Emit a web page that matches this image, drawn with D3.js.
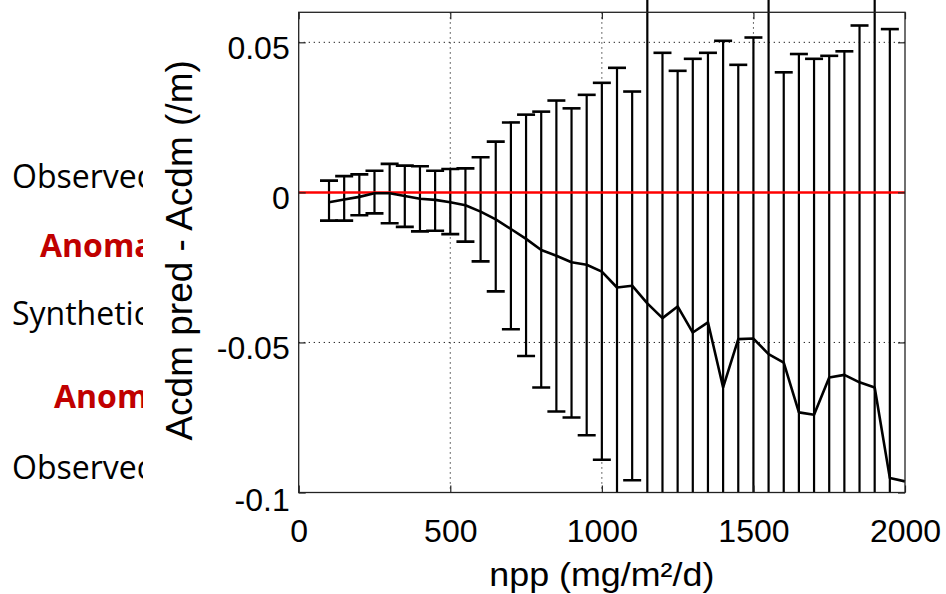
<!DOCTYPE html>
<html>
<head>
<meta charset="utf-8">
<script src="https://cdn.jsdelivr.net/npm/d3@7"></script>
<style>
  html, body { margin: 0; padding: 0; background: #fff; }
  svg { display: block; }
</style>
</head>
<body>
<svg id="chart" width="946" height="594"></svg>
<script>
// ---- data ----
const npp = [100,150,200,250,300,350,400,450,500,550,600,650,700,750,800,850,900,950,1000,
             1050,1100,1150,1200,1250,1300,1350,1400,1450,1500,1550,1600,1650,1700,1750,1800,1850,1900,1950,2000];
const meanDiff = [-0.0033,-0.0024,-0.0015,-0.0003,-0.0003,-0.0012,-0.0021,-0.0025,-0.0033,-0.0043,-0.0064,-0.0090,-0.0122,-0.0155,-0.0192,-0.0211,-0.0233,-0.0241,-0.0264,
                  -0.0317,-0.0311,-0.0370,-0.0419,-0.0380,-0.0467,-0.0433,-0.0650,-0.0489,-0.0487,-0.0539,-0.0567,-0.0733,-0.0741,-0.0617,-0.0608,-0.0633,-0.0650,-0.0952,-0.0963];
const upperBar = [0.0039,0.0054,0.0060,0.0072,0.0095,0.0089,0.0087,0.0072,0.0078,0.0080,0.0117,0.0169,0.0233,0.0259,0.0269,0.0306,0.0280,0.0325,0.0365,
                  0.0415,0.0336,0.0750,0.0465,0.0405,0.0445,0.0465,0.0505,0.0425,0.0516,0.0750,0.0400,0.0461,0.0445,0.0455,0.0470,0.0556,0.0750,0.0544,null];
const lowerBar = [-0.0094,-0.0094,-0.0076,-0.0070,-0.0103,-0.0115,-0.0130,-0.0128,-0.0139,-0.0164,-0.0230,-0.0330,-0.0456,-0.0545,-0.0650,-0.0730,-0.0750,-0.0809,-0.0891,
                  -0.1200,-0.0959,-0.1200,-0.1200,-0.1200,-0.1200,-0.1200,-0.1200,-0.1200,-0.1200,-0.1200,-0.1200,-0.1200,-0.1200,-0.1200,-0.1200,-0.1200,-0.1200,-0.1200,null];
const xTicks = [0, 500, 1000, 1500, 2000];
const yTicks = [-0.1, -0.05, 0, 0.05];
const yTickLabels = ["-0.1", "-0.05", "0", "0.05"];
const xTitle = "npp (mg/m²/d)";
const yTitle = "Acdm pred - Acdm (/m)";
const sideTexts = ["Observed", "Anomaly", "Synthetic", "Anomaly", "Observed"];
const sideEmph = [false, true, false, true, false];

// ---- layout ----
const svg = d3.select("#chart");
const L = 298.7, R = 905, T = 12.3, B = 492.5;
const x = d3.scaleLinear().domain([0, 2000]).range([L, R]);
const y = d3.scaleLinear().domain([-0.1, 0.06]).range([B, T]);

// background slide text (partly covered by the chart image)
const sideX = [12, 40, 12, 54, 12];
const sideY = [188, 257, 325, 408, 479];
svg.append("g").selectAll("text").data(sideTexts).join("text")
  .attr("x", (d, i) => sideX[i]).attr("y", (d, i) => sideY[i])
  .attr("font-family", "'Open Sans', 'Noto Sans', sans-serif")
  .attr("font-size", 32)
  .attr("font-weight", (d, i) => sideEmph[i] ? "bold" : "normal")
  .attr("fill", (d, i) => sideEmph[i] ? "#c00000" : "#000")
  .text(d => d);

// chart image background
svg.append("rect").attr("x", 143).attr("y", 0).attr("width", 946 - 143).attr("height", 594).attr("fill", "#fff");

// grid
const grid = svg.append("g").attr("stroke", "#222").attr("stroke-width", 1).attr("stroke-dasharray", "1.3,3.7");
grid.selectAll("line.gx").data([500, 1000, 1500]).join("line").attr("class", "gx")
  .attr("x1", d => x(d)).attr("x2", d => x(d)).attr("y1", T).attr("y2", B);
grid.selectAll("line.gy").data([0.05, -0.05]).join("line").attr("class", "gy")
  .attr("x1", L).attr("x2", R).attr("y1", d => y(d)).attr("y2", d => y(d));

// clip for error bars (they run off the top of the image but stop at the frame bottom)
svg.append("clipPath").attr("id", "clipBars")
  .append("rect").attr("x", L).attr("y", 0).attr("width", R - L).attr("height", B);

const bars = npp.map((v, i) => ({ x: v, lo: lowerBar[i], hi: upperBar[i] })).filter(d => d.hi !== null);
const eb = svg.append("g").attr("clip-path", "url(#clipBars)").attr("stroke", "#000");
eb.selectAll("line.v").data(bars).join("line").attr("class", "v")
  .attr("x1", d => x(d.x)).attr("x2", d => x(d.x))
  .attr("y1", d => y(d.hi)).attr("y2", d => y(d.lo)).attr("stroke-width", 2.2);
const capW = 9;
eb.selectAll("line.ch").data(bars).join("line").attr("class", "ch")
  .attr("x1", d => x(d.x) - capW).attr("x2", d => x(d.x) + capW)
  .attr("y1", d => y(d.hi)).attr("y2", d => y(d.hi)).attr("stroke-width", 2.6);
eb.selectAll("line.cl").data(bars).join("line").attr("class", "cl")
  .attr("x1", d => x(d.x) - capW).attr("x2", d => x(d.x) + capW)
  .attr("y1", d => y(d.lo)).attr("y2", d => y(d.lo)).attr("stroke-width", 2.6);

// zero line
svg.append("line").attr("x1", L).attr("x2", R).attr("y1", y(0)).attr("y2", y(0))
  .attr("stroke", "#ff0000").attr("stroke-width", 2.5);

// mean line
const line = d3.line().x(d => x(d[0])).y(d => y(d[1]));
svg.append("path").datum(npp.map((v, i) => [v, meanDiff[i]]))
  .attr("d", line).attr("fill", "none").attr("stroke", "#000").attr("stroke-width", 2.6)
  .attr("stroke-linejoin", "round");

// axes (inward ticks on all four sides)
const tickLen = 7;
const fontTick = "'Liberation Sans', Arial, Helvetica, sans-serif";
const axB = svg.append("g").attr("transform", `translate(0,${B})`)
  .call(d3.axisBottom(x).tickValues(xTicks).tickSizeInner(-tickLen).tickSizeOuter(0).tickPadding(0).tickFormat(d3.format("d")));
const axT = svg.append("g").attr("transform", `translate(0,${T})`)
  .call(d3.axisTop(x).tickValues(xTicks).tickSizeInner(-tickLen).tickSizeOuter(0).tickFormat(""));
const axLft = svg.append("g").attr("transform", `translate(${L},0)`)
  .call(d3.axisLeft(y).tickValues(yTicks).tickSizeInner(-tickLen).tickSizeOuter(0).tickPadding(0)
    .tickFormat((d, i) => yTickLabels[i]));
const axRgt = svg.append("g").attr("transform", `translate(${R},0)`)
  .call(d3.axisRight(y).tickValues(yTicks).tickSizeInner(-tickLen).tickSizeOuter(0).tickFormat(""));
[axB, axT, axLft, axRgt].forEach(a => {
  a.select(".domain").remove();
  a.selectAll(".tick line").attr("stroke", "#222").attr("stroke-width", 1.2);
});
axB.selectAll("text").attr("font-family", fontTick).attr("font-size", 32).attr("fill", "#000")
  .attr("y", 49.5).attr("dy", 0);
axLft.selectAll("text").attr("font-family", fontTick).attr("font-size", 32).attr("fill", "#000")
  .attr("x", -9).attr("dy", 0).attr("y", d => d === -0.1 ? 18 : 16);

// frame
svg.append("rect").attr("x", L).attr("y", T).attr("width", R - L).attr("height", B - T)
  .attr("fill", "none").attr("stroke", "#222").attr("stroke-width", 1.3);

// titles
svg.append("text").attr("x", (L + R) / 2).attr("y", 586)
  .attr("text-anchor", "middle").attr("font-family", fontTick).attr("font-size", 33)
  .attr("textLength", 225).attr("lengthAdjust", "spacingAndGlyphs")
  .text(xTitle);
svg.append("text").attr("transform", `translate(192,${(T + B) / 2 - 2}) rotate(-90)`)
  .attr("text-anchor", "middle").attr("font-family", fontTick).attr("font-size", 37)
  .text(yTitle);
</script>
</body>
</html>
